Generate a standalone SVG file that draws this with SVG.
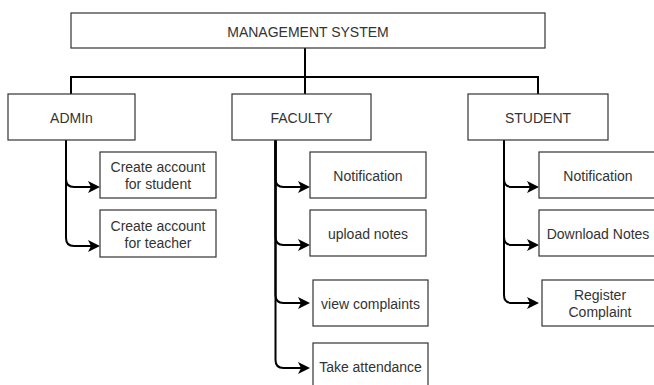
<svg xmlns="http://www.w3.org/2000/svg" width="654" height="385" viewBox="0 0 654 385">
  <style>
    .box { fill: #ffffff; stroke: #333333; stroke-width: 1.2; }
    .lbl { font-family: "Liberation Sans", Arial, Helvetica, sans-serif; font-size: 14px; fill: #333333; text-anchor: middle; }
    .wire { fill: none; stroke: #000000; stroke-width: 2; }
  </style>
  <defs>
    <marker id="arrow" markerUnits="userSpaceOnUse" markerWidth="14" markerHeight="14" viewBox="0 -7 14 14" refX="3" refY="0" orient="auto">
      <path d="M0,-6 L12,0 L0,6 L3,0 Z" fill="#000000"/>
    </marker>
  </defs>
  <rect width="654" height="385" fill="#ffffff"/>

  <!-- connectors -->
  <g id="connectors">
    <!-- root to the three sections -->
    <path class="wire" d="M305,48 V77 H71 V94"/>
    <path class="wire" d="M305,48 V94"/>
    <path class="wire" d="M305,48 V77 H538 V94"/>
    <!-- admin branches -->
    <path class="wire" marker-end="url(#arrow)" d="M66,140 V179 Q66,187 74,187 H91"/>
    <path class="wire" marker-end="url(#arrow)" d="M66,140 V238 Q66,246 74,246 H91"/>
    <!-- faculty branches -->
    <path class="wire" marker-end="url(#arrow)" d="M275.5,140 V179 Q275.5,187 283.5,187 H301"/>
    <path class="wire" marker-end="url(#arrow)" d="M275.5,140 V237 Q275.5,245 283.5,245 H301"/>
    <path class="wire" marker-end="url(#arrow)" d="M275.5,140 V295 Q275.5,303 283.5,303 H301"/>
    <path class="wire" marker-end="url(#arrow)" d="M275.5,140 V360 Q275.5,368 283.5,368 H301"/>
    <!-- student branches -->
    <path class="wire" marker-end="url(#arrow)" d="M504,140 V179 Q504,187 512,187 H530"/>
    <path class="wire" marker-end="url(#arrow)" d="M504,140 V237 Q504,245 512,245 H530"/>
    <path class="wire" marker-end="url(#arrow)" d="M504,140 V295 Q504,303 512,303 H530"/>
  </g>

  <g id="management-system">
    <rect class="box" x="71" y="13" width="474" height="35"/>
    <text class="lbl" x="308" y="37">MANAGEMENT SYSTEM</text>
  </g>

  <g id="admin">
    <rect class="box" x="8" y="94" width="127" height="46"/>
    <text class="lbl" x="71.5" y="122.5">ADMIn</text>
  </g>
  <g id="faculty">
    <rect class="box" x="232" y="94" width="139" height="46"/>
    <text class="lbl" x="301.5" y="122.5">FACULTY</text>
  </g>
  <g id="student">
    <rect class="box" x="468" y="94" width="140" height="46"/>
    <text class="lbl" x="538" y="122.5">STUDENT</text>
  </g>

  <g id="admin-create-student">
    <rect class="box" x="100" y="152" width="116" height="46"/>
    <text class="lbl" x="158" y="172">Create account</text>
    <text class="lbl" x="158" y="189">for student</text>
  </g>
  <g id="admin-create-teacher">
    <rect class="box" x="100" y="210" width="116" height="47"/>
    <text class="lbl" x="158" y="230.5">Create account</text>
    <text class="lbl" x="158" y="247.5">for teacher</text>
  </g>

  <g id="faculty-notification">
    <rect class="box" x="310" y="152" width="116" height="46"/>
    <text class="lbl" x="368" y="180.5">Notification</text>
  </g>
  <g id="faculty-upload-notes">
    <rect class="box" x="310" y="210" width="116" height="46"/>
    <text class="lbl" x="368" y="238.5">upload notes</text>
  </g>
  <g id="faculty-view-complaints">
    <rect class="box" x="313" y="280" width="115" height="46"/>
    <text class="lbl" x="370.5" y="308.5">view complaints</text>
  </g>
  <g id="faculty-take-attendance">
    <rect class="box" x="313" y="343" width="115" height="46"/>
    <text class="lbl" x="370.5" y="371.5">Take attendance</text>
  </g>

  <g id="student-notification">
    <rect class="box" x="539" y="152" width="118" height="46"/>
    <text class="lbl" x="598" y="180.5">Notification</text>
  </g>
  <g id="student-download-notes">
    <rect class="box" x="539" y="210" width="118" height="46"/>
    <text class="lbl" x="598" y="238.5">Download Notes</text>
  </g>
  <g id="student-register-complaint">
    <rect class="box" x="542" y="280" width="116" height="46"/>
    <text class="lbl" x="600" y="299.5">Register</text>
    <text class="lbl" x="600" y="316.5">Complaint</text>
  </g>
</svg>
